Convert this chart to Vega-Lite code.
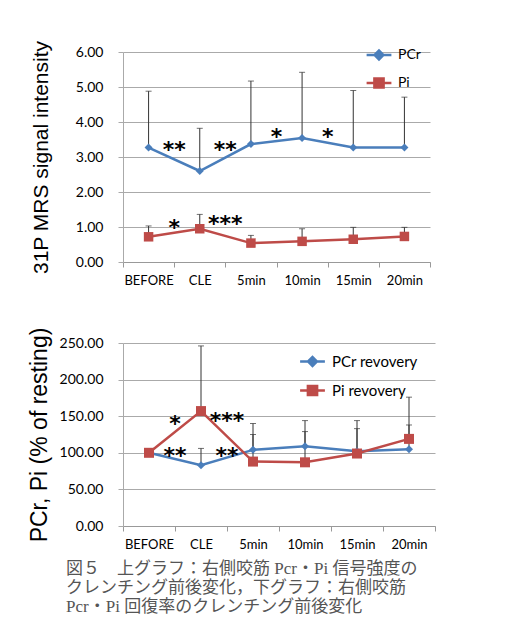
{
  "$schema": "https://vega.github.io/schema/vega-lite/v6.json",
  "background": "white",
  "padding": {"left": 28, "top": 40, "right": 5, "bottom": 3},
  "spacing": 40,
  "resolve": {"scale": {"color": "independent"}, "legend": {"color": "independent"}},
  "title": {
    "text": ["図５　上グラフ：右側咬筋 Pcr・Pi 信号強度の", "クレンチング前後変化，下グラフ：右側咬筋", "Pcr・Pi 回復率のクレンチング前後変化"],
    "orient": "bottom", "anchor": "start", "frame": "bounds",
    "font": "Liberation Serif, Noto Sans CJK JP", "fontSize": 17, "fontWeight": "normal",
    "color": "#555555", "lineHeight": 19, "offset": 10, "dx": 38
  },
  "datasets": {
    "top": [
      {"t": "BEFORE", "series": "PCr", "v": 3.27, "up": 4.88},
      {"t": "CLE", "series": "PCr", "v": 2.60, "up": 3.82},
      {"t": "5min", "series": "PCr", "v": 3.37, "up": 5.17},
      {"t": "10min", "series": "PCr", "v": 3.54, "up": 5.42},
      {"t": "15min", "series": "PCr", "v": 3.27, "up": 4.90},
      {"t": "20min", "series": "PCr", "v": 3.27, "up": 4.71},
      {"t": "BEFORE", "series": "Pi", "v": 0.72, "up": 1.03},
      {"t": "CLE", "series": "Pi", "v": 0.95, "up": 1.36},
      {"t": "5min", "series": "Pi", "v": 0.54, "up": 0.76},
      {"t": "10min", "series": "Pi", "v": 0.59, "up": 0.95},
      {"t": "15min", "series": "Pi", "v": 0.65, "up": 0.99},
      {"t": "20min", "series": "Pi", "v": 0.73, "up": 0.99}
    ],
    "topStars": [
      {"t": "BEFORE", "y": 3.35, "s": "**"},
      {"t": "CLE", "y": 3.35, "s": "**"},
      {"t": "5min", "y": 3.72, "s": "*"},
      {"t": "10min", "y": 3.72, "s": "*"},
      {"t": "BEFORE", "y": 1.12, "s": "*"},
      {"t": "CLE", "y": 1.24, "s": "***"}
    ],
    "bottom": [
      {"t": "BEFORE", "series": "PCr revovery", "v": 100, "up": null},
      {"t": "CLE", "series": "PCr revovery", "v": 83, "up": 106},
      {"t": "5min", "series": "PCr revovery", "v": 104, "up": 125},
      {"t": "10min", "series": "PCr revovery", "v": 109, "up": 129},
      {"t": "15min", "series": "PCr revovery", "v": 102, "up": 133},
      {"t": "20min", "series": "PCr revovery", "v": 105, "up": 138},
      {"t": "BEFORE", "series": "Pi revovery", "v": 100, "up": null},
      {"t": "CLE", "series": "Pi revovery", "v": 157, "up": 246},
      {"t": "5min", "series": "Pi revovery", "v": 88, "up": 140},
      {"t": "10min", "series": "Pi revovery", "v": 87, "up": 144},
      {"t": "15min", "series": "Pi revovery", "v": 99, "up": 144},
      {"t": "20min", "series": "Pi revovery", "v": 119, "up": 176}
    ],
    "bottomStars": [
      {"t": "BEFORE", "y": 146, "s": "*"},
      {"t": "CLE", "y": 150, "s": "***"},
      {"t": "BEFORE", "y": 102, "s": "**"},
      {"t": "CLE", "y": 102, "s": "**"}
    ]
  },
  "vconcat": [
    {
      "width": 307,
      "height": 210,
      "data": {"name": "top"},
      "encoding": {
        "x": {"field": "t", "type": "nominal", "sort": ["BEFORE", "CLE", "5min", "10min", "15min", "20min"], "title": null,
              "scale": {"paddingInner": 0, "paddingOuter": 0}},
        "y": {"type": "quantitative", "scale": {"domain": [0, 6], "nice": false},
              "axis": {"values": [0, 1, 2, 3, 4, 5, 6], "format": ".2f", "title": "31P MRS signal intensity",
                       "titleFontSize": 21, "titlePadding": 24}}
      },
      "layer": [
        {"mark": {"type": "rule", "color": "#333333", "strokeWidth": 1},
         "encoding": {"y": {"field": "v"}, "y2": {"field": "up"}}},
        {"mark": {"type": "tick", "color": "#333333", "thickness": 1, "size": 6},
         "encoding": {"y": {"field": "up", "type": "quantitative"}}},
        {"mark": {"type": "line", "strokeWidth": 2.5},
         "encoding": {
           "y": {"field": "v"},
           "color": {"field": "series", "type": "nominal",
             "scale": {"domain": ["PCr", "Pi"], "range": ["#4A7EBB", "#BE4B48"]},
             "legend": {"title": null, "orient": "none", "legendX": 249, "legendY": -4,
               "labelFont": "Lato", "labelFontSize": 14, "labelColor": "#000000",
               "labelOffset": 12, "rowPadding": 8, "symbolSize": 64, "symbolStrokeWidth": 2.5,
               "encode": {"symbols": {"update": {
                 "shape": {"signal": "datum.value === 'PCr' ? 'M-3.1,0L3.1,0M-1.1,0L0,-1.1L1.1,0L0,1.1Z' : 'M-3.1,0L3.1,0M-1.15,-1.15L1.15,-1.15L1.15,1.15L-1.15,1.15Z'"},
                 "fill": {"scale": "color", "field": "value"},
                 "stroke": {"scale": "color", "field": "value"},
                 "strokeWidth": {"value": 2.5}, "opacity": {"value": 1}, "fillOpacity": {"value": 1}}}}}}
         }},
        {"transform": [{"filter": "datum.series === 'PCr'"}],
         "mark": {"type": "point", "shape": "diamond", "filled": true, "size": 64, "opacity": 1},
         "encoding": {"y": {"field": "v"}, "color": {"field": "series", "type": "nominal", "legend": null}}},
        {"transform": [{"filter": "datum.series === 'Pi'"}],
         "mark": {"type": "point", "shape": "square", "filled": true, "size": 90, "opacity": 1},
         "encoding": {"y": {"field": "v"}, "color": {"field": "series", "type": "nominal", "legend": null}}},
        {"data": {"name": "topStars"},
         "mark": {"type": "text", "font": "DejaVu Sans", "fontWeight": "bold", "fontSize": 22, "baseline": "middle", "align": "center", "color": "#000000", "dy": 5},
         "encoding": {"x": {"field": "t", "type": "nominal", "bandPosition": 1}, "y": {"field": "y", "type": "quantitative"}, "text": {"field": "s"}}}
      ]
    },
    {
      "width": 312,
      "height": 183,
      "data": {"name": "bottom"},
      "encoding": {
        "x": {"field": "t", "type": "nominal", "sort": ["BEFORE", "CLE", "5min", "10min", "15min", "20min"], "title": null,
              "scale": {"paddingInner": 0, "paddingOuter": 0}},
        "y": {"type": "quantitative", "scale": {"domain": [0, 250], "nice": false},
              "axis": {"values": [0, 50, 100, 150, 200, 250], "format": ".2f", "title": "PCr, Pi (% of resting)",
                       "titleFontSize": 23, "titlePadding": 8}}
      },
      "layer": [
        {"mark": {"type": "rule", "color": "#333333", "strokeWidth": 1},
         "encoding": {"y": {"field": "v"}, "y2": {"field": "up"}}},
        {"mark": {"type": "tick", "color": "#333333", "thickness": 1, "size": 6},
         "encoding": {"y": {"field": "up", "type": "quantitative"}}},
        {"mark": {"type": "line", "strokeWidth": 2.5},
         "encoding": {
           "y": {"field": "v"},
           "color": {"field": "series", "type": "nominal",
             "scale": {"domain": ["PCr revovery", "Pi revovery"], "range": ["#4A7EBB", "#BE4B48"]},
             "legend": {"title": null, "orient": "none", "legendX": 182, "legendY": 11,
               "labelFont": "Lato", "labelFontSize": 15, "labelColor": "#000000",
               "labelOffset": 12, "rowPadding": 9, "symbolSize": 64, "symbolStrokeWidth": 2.5,
               "encode": {"symbols": {"update": {
                 "shape": {"signal": "datum.value === 'PCr revovery' ? 'M-3.1,0L3.1,0M-1.1,0L0,-1.1L1.1,0L0,1.1Z' : 'M-3.1,0L3.1,0M-1.15,-1.15L1.15,-1.15L1.15,1.15L-1.15,1.15Z'"},
                 "fill": {"scale": "color", "field": "value"},
                 "stroke": {"scale": "color", "field": "value"},
                 "strokeWidth": {"value": 2.5}, "opacity": {"value": 1}, "fillOpacity": {"value": 1}}}}}}
         }},
        {"transform": [{"filter": "datum.series === 'PCr revovery'"}],
         "mark": {"type": "point", "shape": "diamond", "filled": true, "size": 64, "opacity": 1},
         "encoding": {"y": {"field": "v"}, "color": {"field": "series", "type": "nominal", "legend": null}}},
        {"transform": [{"filter": "datum.series === 'Pi revovery'"}],
         "mark": {"type": "point", "shape": "square", "filled": true, "size": 100, "opacity": 1},
         "encoding": {"y": {"field": "v"}, "color": {"field": "series", "type": "nominal", "legend": null}}},
        {"data": {"name": "bottomStars"},
         "mark": {"type": "text", "font": "DejaVu Sans", "fontWeight": "bold", "fontSize": 22, "baseline": "middle", "align": "center", "color": "#000000", "dy": 5},
         "encoding": {"x": {"field": "t", "type": "nominal", "bandPosition": 1}, "y": {"field": "y", "type": "quantitative"}, "text": {"field": "s"}}}
      ]
    }
  ],
  "config": {
    "view": {"stroke": null},
    "axisX": {"labelAngle": 0, "tickBand": "extent", "grid": false, "labelFont": "Lato", "labelFontWeight": "normal",
              "labelFontSize": 13, "labelColor": "#000000", "labelPadding": 7, "tickSize": 5,
              "tickColor": "#999999", "domainColor": "#999999"},
    "axisY": {"labelFont": "Lato", "labelFontSize": 14, "labelColor": "#000000", "labelPadding": 15,
              "tickSize": 5, "tickColor": "#AAAAAA", "domainColor": "#AAAAAA", "gridColor": "#AAAAAA", "gridOpacity": 1,
              "titleFont": "Liberation Sans", "titleFontWeight": "normal", "titleColor": "#000000"}
  }
}
